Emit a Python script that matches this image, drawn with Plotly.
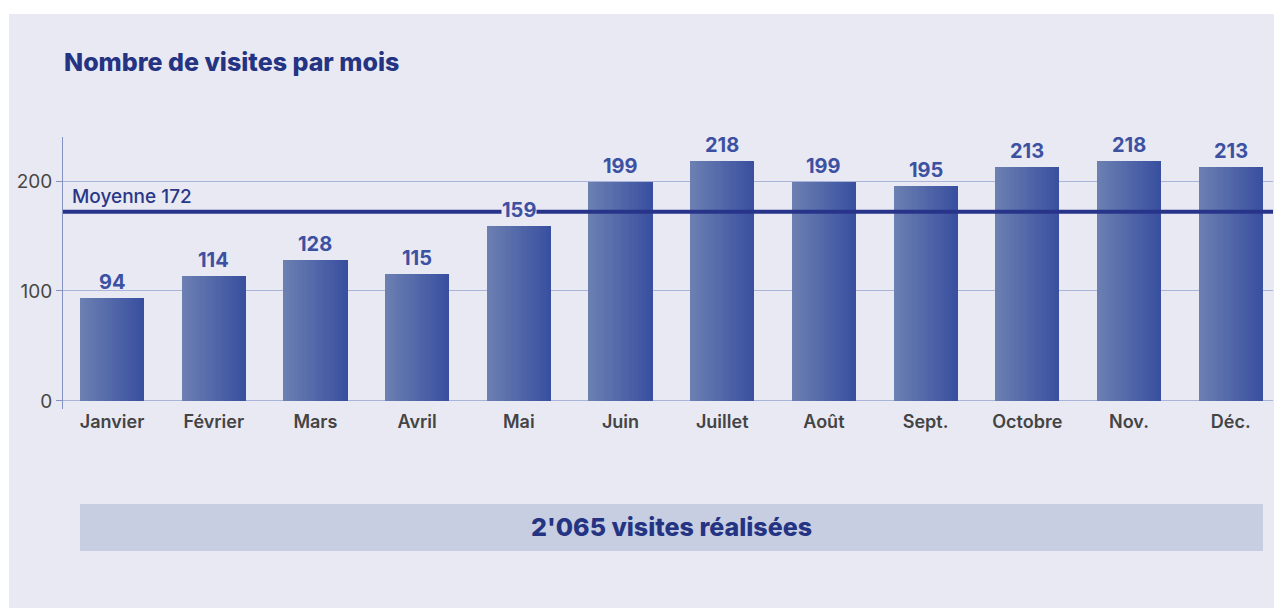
import plotly.graph_objects as go

months = ["Janvier", "Février", "Mars", "Avril", "Mai", "Juin", "Juillet",
          "Août", "Sept.", "Octobre", "Nov.", "Déc."]
visits = [94, 114, 128, 115, 159, 199, 218, 199, 195, 213, 218, 213]
average = 172
title_text = "Nombre de visites par mois"
avg_label = "Moyenne 172"
total_label = "2'065 visites réalisées"
y_ticks = [0, 100, 200]

OFF = 8  # page body margin
W, H = 1282 - OFF, 608 - OFF
# plot area in screen pixels: x 63..1273, y 137..409
PX0, PX1, PY0, PY1 = 63, 1273, 137, 409
L, R, T, B = PX0 - OFF, W - (PX1 - OFF), PY0 - OFF, H - (PY1 - OFF)
pw, ph = PX1 - PX0, PY1 - PY0

def px(x):
    return (x - PX0) / pw

def py(y):
    return (PY1 - y) / ph

PANEL = "#e9e9f3"
NAVY = "#243482"
LABEL = "#3c51a2"
FONT = "Inter, Roboto, sans-serif"

fig = go.Figure()

# gradient bars made of narrow slices
bar_w = 0.63
N = 24
c0 = (0x6b, 0x7f, 0xb1)
c1 = (0x39, 0x50, 0xa0)
for k in range(N):
    t = k / (N - 1)
    col = "rgb(%d,%d,%d)" % tuple(round(a + (b - a) * t) for a, b in zip(c0, c1))
    fig.add_trace(go.Bar(
        x=months, y=visits,
        width=bar_w / N * 1.02,
        offset=-bar_w / 2 + k * bar_w / N,
        marker=dict(color=col, line=dict(width=0)),
        hoverinfo="skip", showlegend=False,
    ))

# average line
fig.add_hline(y=average, line=dict(color="#28348a", width=4), layer="above")

# background panel and total box
fig.add_shape(type="rect", xref="paper", yref="paper",
              x0=px(9), x1=px(1300), y0=py(14), y1=py(620),
              fillcolor=PANEL, line=dict(width=0), layer="below")
fig.add_shape(type="rect", xref="paper", yref="paper",
              x0=px(80), x1=px(1263), y0=py(504), y1=py(551),
              fillcolor="#c8cee2", line=dict(width=0), layer="below")

# value labels
for m, v in zip(months, visits):
    bg = PANEL if abs(v + 14 - average) < 14 else None
    fig.add_annotation(x=m, y=v, text=str(v), showarrow=False,
                       yanchor="middle", yshift=16,
                       font=dict(family=FONT, size=20, color=LABEL, weight=700),
                       bgcolor=bg, borderpad=0)

fig.add_annotation(xref="paper", yref="y", x=px(70), y=average, text=avg_label,
                   showarrow=False, xanchor="left", yanchor="middle", yshift=15,
                   font=dict(family=FONT, size=19, color="#2a3787", weight=500))

fig.add_annotation(xref="paper", yref="paper", x=px(62), y=py(62), text=title_text,
                   showarrow=False, xanchor="left", yanchor="middle",
                   font=dict(family=FONT, size=25, color=NAVY, weight=800))

fig.add_annotation(xref="paper", yref="paper", x=px(671), y=py(527), text=total_label,
                   showarrow=False, xanchor="center", yanchor="middle",
                   font=dict(family=FONT, size=25, color=NAVY, weight=800))

fig.update_layout(
    width=W, height=H,
    margin=dict(l=L, r=R, t=T, b=B, pad=0),
    paper_bgcolor="white", plot_bgcolor="rgba(0,0,0,0)",
    barmode="overlay", bargap=0,
    showlegend=False,
    font=dict(family=FONT),
)
fig.update_xaxes(
    range=[-0.482, 11.416], showgrid=False, zeroline=False, showline=False,
    ticks="", tickfont=dict(family=FONT, size=18, color="#444444", weight=600),
    fixedrange=True,
)
fig.update_yaxes(
    range=[-7.3, 240], tickvals=y_ticks, showgrid=True, gridcolor="#a9b4d8",
    gridwidth=1, zeroline=False, showline=True, linecolor="#8593c4", linewidth=1,
    ticks="outside", ticklen=6, tickcolor="#8593c4",
    tickfont=dict(family=FONT, size=19, color="#474747"),
    fixedrange=True,
)

fig.write_html("out.html")
